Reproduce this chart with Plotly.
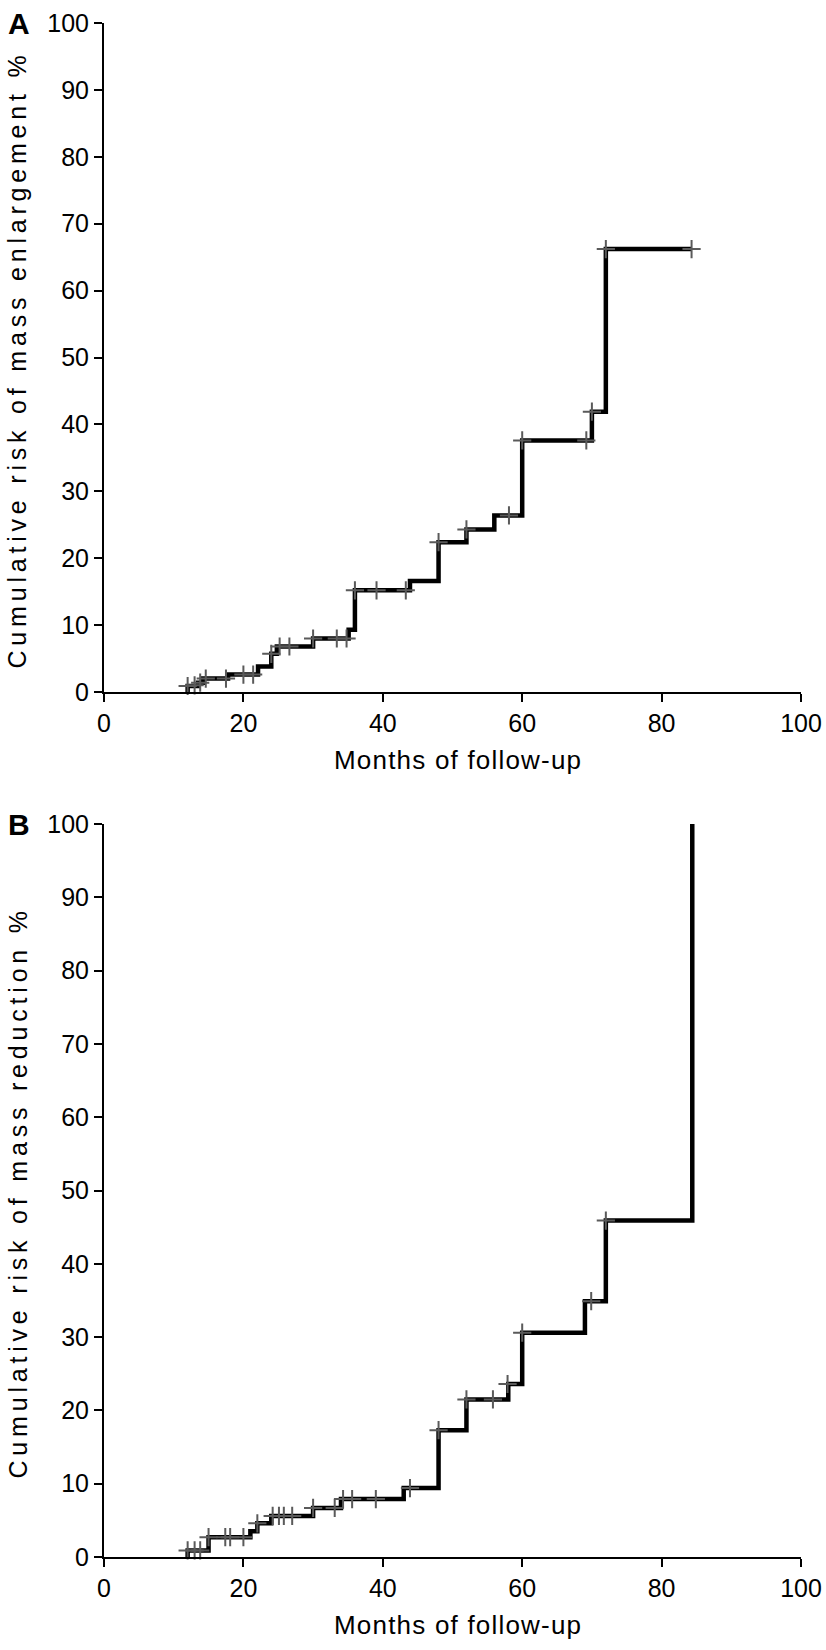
import plotly.graph_objects as go

# Painel A - risco cumulativo de aumento da massa (passos)
a_time = [12, 12, 13.5, 14.2, 17.8, 22.1, 24.0, 24.8, 30.0, 35.1, 36.0, 43.9, 48.0, 52.0, 56.0, 60.0, 70.0, 72.0, 84.3]
a_risk = [0, 0.9, 1.4, 2.0, 2.6, 3.8, 5.7, 6.8, 8.0, 9.3, 15.2, 16.6, 22.4, 24.3, 26.4, 37.6, 41.9, 66.2, 66.2]
# censuras (+)
a_cens_time = [12, 13, 13.8, 14.6, 17.5, 20, 21.4, 24, 25.2, 26.6, 30, 33.4, 34.8, 36, 39.1, 43.3,
               48, 52, 58.1, 60, 69.2, 70, 72, 84.3]
a_cens_risk = [0.9, 1.0, 1.4, 2.0, 2.0, 2.6, 2.6, 5.7, 6.8, 6.8, 8.0, 8.0, 8.0, 15.2, 15.2, 15.2,
               22.4, 24.3, 26.4, 37.6, 37.6, 41.9, 66.2, 66.2]

# Painel B - risco cumulativo de redução da massa
b_time = [12, 12, 15, 21, 22, 24, 30, 34, 43, 48, 52, 58, 60, 69, 72, 84.4]
b_risk = [0, 0.9, 2.7, 3.5, 4.6, 5.6, 6.7, 7.9, 9.4, 17.3, 21.5, 23.6, 30.6, 34.9, 45.9, 100]
b_cens_time = [12, 13, 13.8, 15, 17.4, 18.1, 20, 22, 24.2, 25.1, 25.8, 27, 30, 33.1, 34.3, 35.6, 39,
               43.9, 48, 52, 55.8, 57.9, 60, 69.9, 72]
b_cens_risk = [0.9, 0.9, 0.9, 2.7, 2.7, 2.7, 2.7, 4.6, 5.6, 5.6, 5.6, 5.6, 6.7, 6.7, 7.9, 7.9, 7.9,
               9.4, 17.3, 21.5, 21.5, 23.6, 30.6, 34.9, 45.9]

ticks = [0, 10, 20, 30, 40, 50, 60, 70, 80, 90, 100]
xticks = [0, 20, 40, 60, 80, 100]

SANS = "Liberation Sans, Arial, sans-serif"

fig = go.Figure()

for t, r, ct, cr, xa, ya in [(a_time, a_risk, a_cens_time, a_cens_risk, "x", "y"),
                             (b_time, b_risk, b_cens_time, b_cens_risk, "x2", "y2")]:
    fig.add_trace(go.Scatter(
        x=t, y=r, mode="lines", line=dict(color="black", width=4.5, shape="hv"),
        xaxis=xa, yaxis=ya, showlegend=False, cliponaxis=False
    ))
    fig.add_trace(go.Scatter(
        x=ct, y=cr, mode="markers",
        marker=dict(symbol="cross-thin", size=13, line=dict(color="#5a5a5a", width=2)),
        xaxis=xa, yaxis=ya, showlegend=False, cliponaxis=False
    ))

# pixels da página (body sem margem, ver post_script)
W, H = 826, 1650
L = 104
T = 23
R = W - 801
B = H - 1557
pw = W - L - R
ph = H - T - B
a_dom = [(1557 - 692) / ph, 1]
b_dom = [0, (1557 - 824) / ph]

axis_common = dict(
    range=[0, 100], showgrid=False, zeroline=False, showline=True, automargin=False,
    linecolor="black", linewidth=2, ticks="outside", ticklen=8, tickwidth=2,
    tickcolor="black", tickfont=dict(family=SANS, size=25, color="black"),
)

fig.update_layout(
    width=W, height=H,
    margin=dict(l=L, r=R, t=T, b=B),
    plot_bgcolor="white", paper_bgcolor="white",
    xaxis=dict(axis_common, domain=[0, 1], anchor="y", tickvals=xticks),
    yaxis=dict(axis_common, domain=a_dom, anchor="x", tickvals=ticks),
    xaxis2=dict(axis_common, domain=[0, 1], anchor="y2", tickvals=xticks),
    yaxis2=dict(axis_common, domain=b_dom, anchor="x2", tickvals=ticks),
)

# títulos dos eixos e letras dos painéis
ann = []
for ybot, ytop, label, ytitle in [(692, 23, "A", "Cumulative risk of mass enlargement %"),
                                   (1557, 824, "B", "Cumulative risk of mass reduction %")]:
    ann.append(dict(text="<b>%s</b>" % label, x=19, y=ytop,
                    font=dict(family=SANS, size=30, color="black")))
    ann.append(dict(text='<span style="letter-spacing:4.8px">%s</span>' % ytitle,
                    x=17, y=(ybot + ytop) / 2 + 2, textangle=-90,
                    font=dict(family=SANS, size=25, color="black")))
    ann.append(dict(text='<span style="letter-spacing:1.2px">Months of follow-up</span>',
                    x=458, y=ybot + 68,
                    font=dict(family=SANS, size=26, color="black")))

for a in ann:
    a["showarrow"] = False
    a["xref"] = "paper"
    a["yref"] = "paper"
    a["x"] = (a["x"] - L) / pw
    a["y"] = (H - B - a["y"]) / ph
    a["xanchor"] = "center"
    a["yanchor"] = "middle"

fig.update_layout(annotations=ann)

fig.write_html(
    "out.html",
    config={"displayModeBar": False},
    post_script="document.body.style.margin='0';document.body.style.overflow='hidden';",
)
